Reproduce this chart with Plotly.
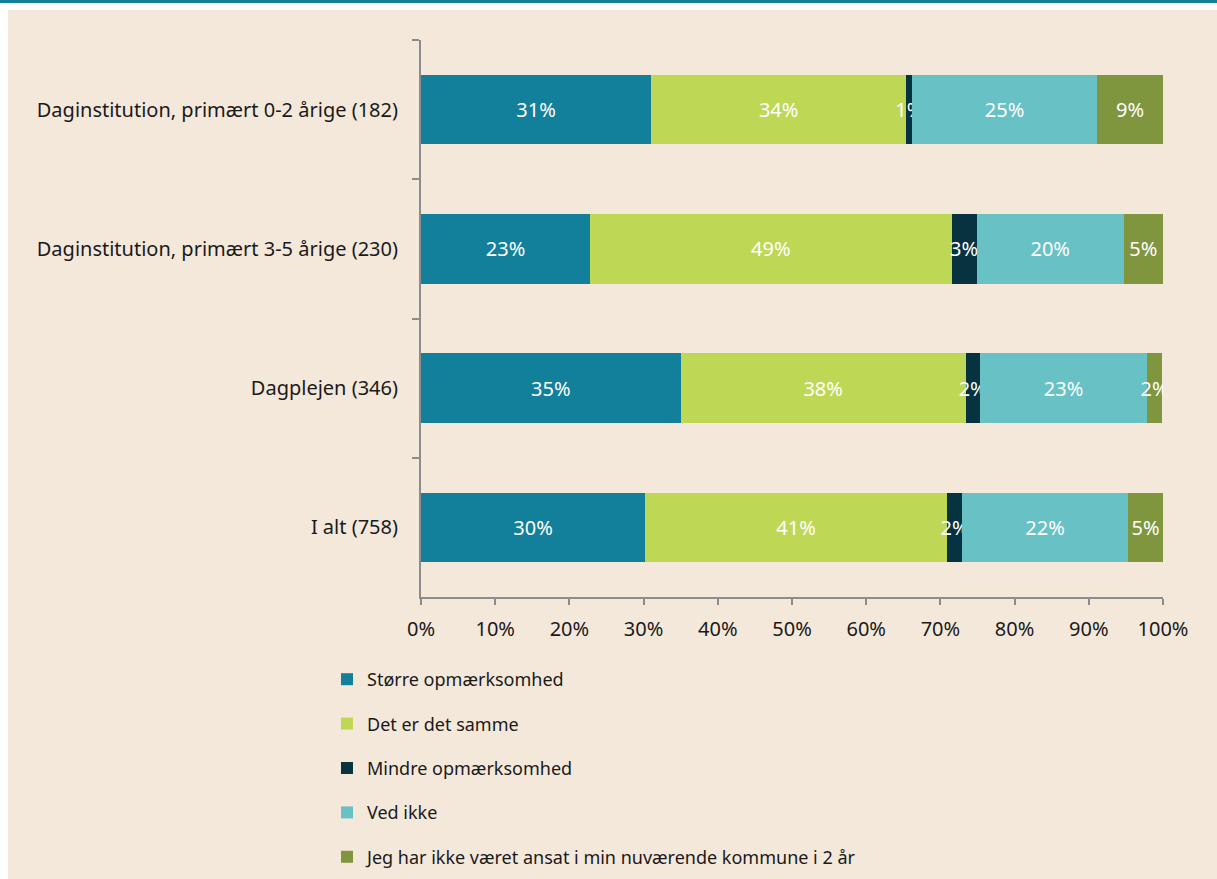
"""Stacked percentage bars: attention to the topic, by type of daycare."""

import plotly.graph_objects as go

categories = [
    "Daginstitution, primært 0-2 årige (182)",
    "Daginstitution, primært 3-5 årige (230)",
    "Dagplejen (346)",
    "I alt (758)",
]

series_names = [
    "Større opmærksomhed",
    "Det er det samme",
    "Mindre opmærksomhed",
    "Ved ikke",
    "Jeg har ikke været ansat i min nuværende kommune i 2 år",
]

# shares in percent, one list per series (same order as categories)
stoerre = [31.0, 22.8, 35.0, 30.2]
samme = [34.4, 48.7, 38.4, 40.7]
mindre = [0.8, 3.4, 1.9, 2.0]
ved_ikke = [24.9, 19.8, 22.6, 22.4]
ikke_ansat = [8.9, 5.3, 1.9, 4.7]

tick_vals = [0, 10, 20, 30, 40, 50, 60, 70, 80, 90, 100]
tick_text = [f"{v}%" for v in tick_vals]

colors = ["#127F9B", "#BED856", "#07323F", "#68C1C5", "#7F963E"]
BG = "#F4E8DB"
FONT = "Noto Sans"

fig = go.Figure()
for name, values, color in zip(
    series_names, [stoerre, samme, mindre, ved_ikke, ikke_ansat], colors
):
    fig.add_trace(
        go.Bar(
            x=values,
            y=categories,
            name=name,
            orientation="h",
            marker={"color": color, "line": {"width": 0}},
            texttemplate="%{x:.0f}%",
            textposition="inside",
            insidetextanchor="middle",
            textangle=0,
            constraintext="none",
            insidetextfont={"color": "white", "size": 20, "family": FONT},
            legendgroup=name,
        )
    )

# plot area in pixels: x 421..1163, y 40..597
W, H = 1217, 879
L, R, T, B = 421, 1163, 40, 597
pw, ph = R - L, B - T


def px_x(p):
    return (p - L) / pw


def px_y(p):
    return 1 - (p - T) / ph


fig.update_layout(
    width=W,
    height=H,
    barmode="stack",
    bargap=0.5,
    paper_bgcolor=BG,
    plot_bgcolor=BG,
    font={"family": FONT, "size": 20, "color": "#1A1A1A"},
    margin={"l": L, "r": W - R, "t": T, "b": H - B, "pad": 0},
    xaxis={
        "range": [0, 100],
        "tickvals": tick_vals,
        "ticktext": tick_text,
        "showgrid": False,
        "zeroline": False,
        "showline": True,
        "linecolor": "#8C8C8C",
        "linewidth": 2,
        "ticks": "outside",
        "ticklen": 6,
        "tickwidth": 2,
        "tickcolor": "#8C8C8C",
        "ticklabelstandoff": 7,
        "fixedrange": True,
    },
    yaxis={
        "autorange": "reversed",
        "tickson": "boundaries",
        "showgrid": False,
        "showline": True,
        "linecolor": "#8C8C8C",
        "linewidth": 2,
        "ticks": "outside",
        "ticklen": 7,
        "tickwidth": 2,
        "tickcolor": "#8C8C8C",
        "ticklabelstandoff": 17,
        "fixedrange": True,
    },
    legend={
        "orientation": "v",
        "x": px_x(327),
        "xanchor": "left",
        "yref": "container",
        "y": 1 - 661 / H,
        "yanchor": "top",
        "bgcolor": "rgba(0,0,0,0)",
        "borderwidth": 0,
        "tracegroupgap": 18,
        "traceorder": "grouped",
        "font": {"size": 18, "family": FONT},
    },
    showlegend=True,
    shapes=[
        # white strip and teal rule at the very top, white edge at the left
        {
            "type": "rect",
            "xref": "paper",
            "yref": "paper",
            "x0": px_x(0),
            "x1": px_x(W),
            "y0": px_y(10),
            "y1": px_y(0),
            "fillcolor": "white",
            "line": {"width": 0},
            "layer": "below",
        },
        {
            "type": "rect",
            "xref": "paper",
            "yref": "paper",
            "x0": px_x(0),
            "x1": px_x(W),
            "y0": px_y(3),
            "y1": px_y(0),
            "fillcolor": "#127F9B",
            "line": {"width": 0},
            "layer": "below",
        },
        {
            "type": "rect",
            "xref": "paper",
            "yref": "paper",
            "x0": px_x(0),
            "x1": px_x(8),
            "y0": px_y(H),
            "y1": px_y(3),
            "fillcolor": "white",
            "line": {"width": 0},
            "layer": "below",
        },
    ],
)

fig.write_html(
    "out.html",
    config={"displayModeBar": False},
    post_script="document.body.style.margin = '0';",
)
